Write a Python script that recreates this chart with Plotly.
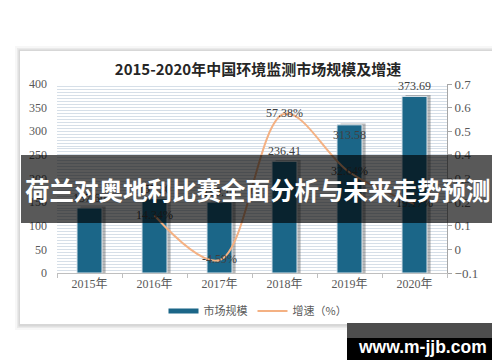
import plotly.graph_objects as go

# ---------------- data ----------------
years = ["2015年", "2016年", "2017年", "2018年", "2019年", "2020年"]
market_size = [137.6, 157.3, 150.1, 236.41, 313.58, 373.69]
growth = [None, 0.1434, -0.0459, 0.5738, 0.3264, 0.1917]
growth_labels = ["", "14.34%", "-4.59%", "57.38%", "32.64%", "19.17%"]
bar_label_pos = ["outside", "outside", "outside", "outside", "inside", "outside"]
left_ticks = [0, 50, 100, 150, 200, 250, 300, 350, 400]
right_ticks = [-0.1, 0, 0.1, 0.2, 0.3, 0.4, 0.5, 0.6, 0.7]

title_text = "2015-2020年中国环境监测市场规模及增速"
banner_text = "荷兰对奥地利比赛全面分析与未来走势预测"
watermark_text = "www.m-jjb.com"

# ---------------- layout helpers (pixel -> paper) ----------------
W, H = 500, 362
PL, PR, PT, PB = 49, 439, 76, 265


def px2x(px):
    return (px - PL) / (PR - PL)


def px2y(py):
    return (PB - py) / (PB - PT)


BAR_COLOR = "#1b6688"
LINE_COLOR = "#f4b183"
TXT = "#404040"
SERIF = "Liberation Serif, Noto Sans CJK SC, serif"
CJK = "Noto Sans CJK SC, sans-serif"

fig = go.Figure()

# bar shadow
fig.add_trace(go.Bar(
    x=years, y=[v + 3 for v in market_size],
    width=0.385, offset=-0.1925 + 0.055,
    marker=dict(color="rgba(80,80,80,0.40)", line=dict(width=0)),
    hoverinfo="skip", showlegend=False,
))

# main bars
fig.add_trace(go.Bar(
    x=years, y=market_size, name="市场规模",
    width=0.385, offset=-0.1925,
    marker=dict(color=BAR_COLOR, line=dict(color="#dfe6ec", width=1)),
    text=[f"{v:.2f}" for v in market_size],
    textposition=bar_label_pos,
    insidetextanchor="end",
    constraintext="none",
    textangle=0,
    textfont=dict(family=SERIF, size=12, color=TXT),
    insidetextfont=dict(family=SERIF, size=12, color=TXT),
    outsidetextfont=dict(family=SERIF, size=12, color=TXT),
    cliponaxis=False,
    showlegend=False,
))

# growth line
fig.add_trace(go.Scatter(
    x=years, y=growth, yaxis="y2", name="增速（%）",
    mode="lines+text",
    line=dict(color=LINE_COLOR, width=2, shape="spline", smoothing=1.0),
    text=growth_labels, textposition="middle center",
    textfont=dict(family=SERIF, size=12, color=TXT),
    cliponaxis=False,
    showlegend=False,
))

# legend proxies
fig.add_trace(go.Scatter(x=[None], y=[None], mode="lines", name="市场规模",
                         line=dict(color=BAR_COLOR, width=5)))
fig.add_trace(go.Scatter(x=[None], y=[None], mode="lines", name="增速（%）",
                         line=dict(color=LINE_COLOR, width=2), yaxis="y2"))

shapes = []
# card shadow layers
for pad, op in [(5, 0.03), (3, 0.05), (1.5, 0.08)]:
    shapes.append(dict(type="rect", xref="paper", yref="paper", layer="below",
                       x0=px2x(12 - pad), x1=px2x(487 + pad + 1),
                       y0=px2y(316 + pad + 1), y1=px2y(43 - pad),
                       line=dict(width=0), fillcolor=f"rgba(0,0,0,{op})"))
# card
shapes.append(dict(type="rect", xref="paper", yref="paper", layer="below",
                   x0=px2x(12), x1=px2x(487), y0=px2y(316), y1=px2y(43),
                   line=dict(width=0), fillcolor="white"))
# banner
shapes.append(dict(type="rect", xref="paper", yref="paper", layer="above",
                   x0=px2x(13), x1=px2x(488), y0=px2y(215), y1=px2y(147),
                   line=dict(width=0), fillcolor="rgba(0,0,0,0.65)"))
# watermark box
shapes.append(dict(type="rect", xref="paper", yref="paper", layer="above",
                   x0=px2x(339), x1=px2x(491), y0=px2y(330), y1=px2y(315),
                   line=dict(width=0), fillcolor="#4d4d4d"))
shapes.append(dict(type="rect", xref="paper", yref="paper", layer="above",
                   x0=px2x(339), x1=px2x(491), y0=px2y(352), y1=px2y(330),
                   line=dict(width=0), fillcolor="#000000"))

annotations = [
    dict(text=banner_text, xref="paper", yref="paper",
         x=px2x(250), y=px2y(181), showarrow=False,
         xanchor="center", yanchor="middle",
         font=dict(family=CJK, size=24.5, color="white", weight="bold")),
    dict(text=watermark_text, xref="paper", yref="paper",
         x=px2x(414), y=px2y(339), showarrow=False,
         xanchor="center", yanchor="middle",
         font=dict(family="Liberation Sans, Arial, sans-serif", size=17.5,
                   color="white", weight="bold")),
]

fig.update_layout(
    width=W, height=H,
    margin=dict(l=PL, r=W - PR, t=PT, b=H - PB, pad=0, autoexpand=False),
    paper_bgcolor="white",
    plot_bgcolor="rgba(0,0,0,0)",
    barmode="overlay",
    bargap=0.6,
    title=dict(text=title_text, x=0.5, xref="container", xanchor="center",
               y=1 - 62 / H, yref="container", yanchor="middle",
               font=dict(family=CJK, size=15, color="#262626", weight="bold")),
    xaxis=dict(
        showline=True, linecolor="#bfbfbf", linewidth=1,
        ticks="outside", ticklen=4, tickcolor="#bfbfbf", tickson="boundaries",
        tickfont=dict(family=SERIF, size=12, color="#595959"),
        showgrid=False, zeroline=False,
    ),
    yaxis=dict(
        range=[0, 400], autorange=False, tickmode="array", tickvals=left_ticks,
        showline=False, ticks="", zeroline=False,
        showgrid=True, gridcolor="#d6dfe8", gridwidth=1,
        minor=dict(tickmode="linear", tick0=0, dtick=6.25, showgrid=True,
                   gridcolor="#d6dfe8", gridwidth=1),
        tickfont=dict(family=SERIF, size=12, color="#595959"),
        ticklabelstandoff=9,
    ),
    yaxis2=dict(
        range=[-0.1, 0.7], autorange=False, tickmode="array", tickvals=right_ticks,
        overlaying="y", side="right",
        showline=True, linecolor="#a6a6a6", linewidth=1,
        ticks="outside", ticklen=4, tickcolor="#a6a6a6",
        showgrid=False, zeroline=False,
        tickfont=dict(family=SERIF, size=13, color="#595959"),
    ),
    legend=dict(orientation="h", xref="container", yref="container",
                x=0.5, xanchor="center", y=1 - 303 / H, yanchor="middle",
                font=dict(family=CJK, size=11, color="#595959"),
                bgcolor="rgba(0,0,0,0)", itemwidth=30),
    shapes=shapes,
    annotations=annotations,
    showlegend=True,
)

fig.write_html("out.html")
